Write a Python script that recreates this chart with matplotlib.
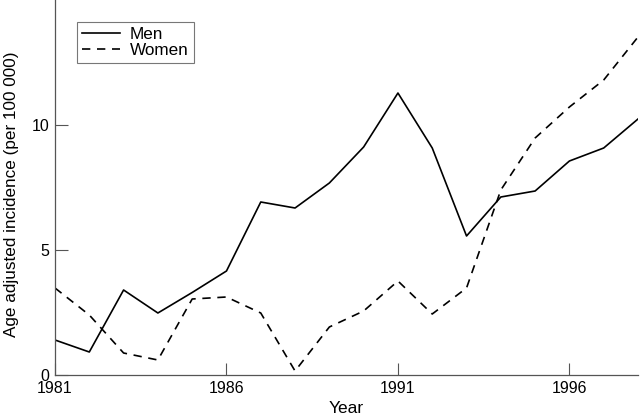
import matplotlib.pyplot as plt

plt.rcParams["font.family"] = ["Liberation Sans", "DejaVu Sans"]

years = list(range(1981, 1999))
men = [1.4, 0.92, 3.4, 2.48, 3.3, 4.16, 6.92, 6.68, 7.68, 9.12, 11.28,
       9.08, 5.56, 7.12, 7.36, 8.56, 9.08, 10.24]
women = [3.48, 2.4, 0.88, 0.6, 3.04, 3.12, 2.48, 0.16, 1.92, 2.56, 3.76,
         2.44, 3.48, 7.4, 9.48, 10.72, 11.8, 13.52]

fig = plt.figure(figsize=(6.4, 4.18), dpi=100)
ax = fig.add_axes([55 / 640, 43 / 418, 583 / 640, 375 / 418])

ax.plot(years, men, color="black", lw=1.2, label="Men")
ax.plot(years, women, color="black", lw=1.2, ls=(0, (5, 4)), label="Women")

ax.set_xlim(1981, 1998)
ax.set_ylim(0, 15)
ax.set_xticks([1981, 1986, 1991, 1996])
ax.set_yticks([0, 5, 10])
ax.tick_params(direction="in", length=9, width=0.8, labelsize=11.5, color="#555555")
ax.tick_params(axis="x", pad=4)
ax.tick_params(axis="y", pad=4)
for s in ["top", "right"]:
    ax.spines[s].set_visible(False)
for s in ["left", "bottom"]:
    ax.spines[s].set_color("#555555")
    ax.spines[s].set_linewidth(0.9)

ax.set_xlabel("Year", fontsize=12.5, labelpad=4)
ax.set_ylabel("Age adjusted incidence (per 100 000)", fontsize=12.3)
ax.yaxis.set_label_coords(-0.062, 0.483)

leg = ax.legend(loc="upper left", bbox_to_anchor=(0.0377, 0.941), fontsize=12.3,
                frameon=True, fancybox=False, edgecolor="#555555",
                borderaxespad=0, handlelength=2.2, borderpad=0.3,
                labelspacing=0.05, handletextpad=0.6)
leg.get_frame().set_linewidth(0.8)

fig.savefig("out.png", dpi=100)
